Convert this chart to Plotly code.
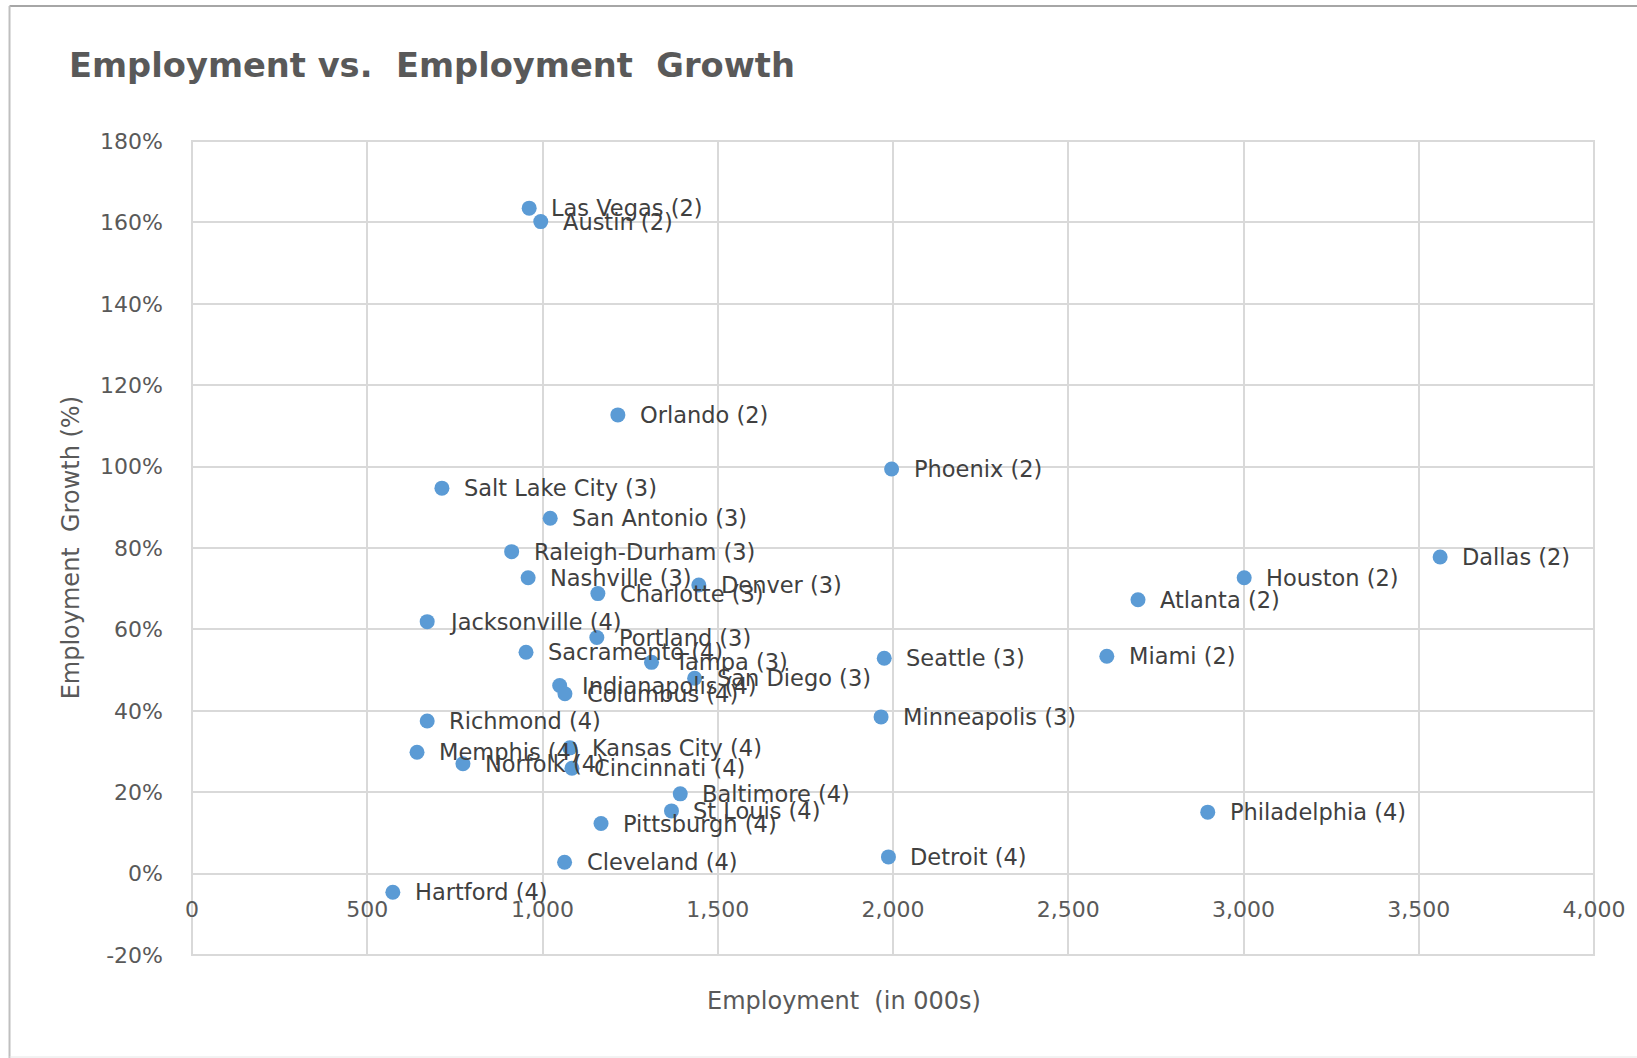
import plotly.graph_objects as go

# ---------------- data ----------------
cities = ["Las Vegas", "Austin", "Orlando", "Phoenix", "Salt Lake City", "San Antonio",
          "Raleigh-Durham", "Nashville", "Denver", "Charlotte", "Jacksonville", "Portland",
          "Sacramento", "Tampa", "San Diego", "Indianapolis", "Columbus", "Seattle",
          "Minneapolis", "Richmond", "Memphis", "Norfolk", "Kansas City", "Cincinnati",
          "Baltimore", "St Louis", "Pittsburgh", "Cleveland", "Hartford", "Detroit",
          "Philadelphia", "Miami", "Atlanta", "Houston", "Dallas"]
tiers = [2, 2, 2, 2, 3, 3,
         3, 3, 3, 3, 4, 3,
         4, 3, 3, 4, 4, 3,
         3, 4, 4, 4, 4, 4,
         4, 4, 4, 4, 4, 4,
         4, 2, 2, 2, 2]
employment = [962, 995, 1215, 1996, 713, 1022,
              912, 959, 1446, 1158, 671, 1155,
              953, 1311, 1434, 1049, 1064, 1975,
              1966, 671, 642, 773, 1078, 1084,
              1393, 1368, 1167, 1063, 573, 1987,
              2898, 2610, 2699, 3002, 3561]
growth_pct = [163.5, 160.2, 112.7, 99.4, 94.7, 87.3,
              79.1, 72.7, 70.9, 68.8, 61.9, 58.0,
              54.4, 51.9, 48.0, 46.2, 44.2, 52.9,
              38.5, 37.5, 29.8, 27.0, 30.9, 25.9,
              19.6, 15.4, 12.3, 2.8, -4.6, 4.1,
              15.1, 53.4, 67.3, 72.7, 77.8]

x_tick_vals = [0, 500, 1000, 1500, 2000, 2500, 3000, 3500, 4000]
x_tick_text = ["0", "500", "1,000", "1,500", "2,000", "2,500", "3,000", "3,500", "4,000"]
y_tick_vals = [-20, 0, 20, 40, 60, 80, 100, 120, 140, 160, 180]
y_tick_text = ["-20%", "0%", "20%", "40%", "60%", "80%", "100%", "120%", "140%", "160%", "180%"]

title_text = "Employment vs.\u00a0 Employment\u00a0 Growth"
x_title = "Employment\u00a0 (in 000s)"
y_title = "Employment\u00a0 Growth (%)"

labels = [f"{c} ({t})" for c, t in zip(cities, tiers)]

# ---------------- layout geometry ----------------
W, H = 1637, 1058
ML, MR, MT, MB = 192, 39, 141, 103
PW, PH = W - ML - MR, H - MT - MB


def px_x(px):
    return (px - ML) / PW


def px_y(py):
    return (H - MB - py) / PH


FONT = "DejaVu Sans"
GRID = "#d9d9d9"

fig = go.Figure()
fig.add_trace(go.Scatter(
    x=employment, y=growth_pct, mode="markers",
    marker=dict(color="#5b9bd5", size=15),
    hoverinfo="skip", showlegend=False,
))

annotations = []
for xv, yv, lab in zip(employment, growth_pct, labels):
    annotations.append(dict(
        x=xv, y=yv, xref="x", yref="y", text=lab, showarrow=False,
        xanchor="left", yanchor="middle", xshift=20,
        font=dict(family=FONT, size=22.5, color="#404040"),
    ))

# axis titles
annotations.append(dict(
    x=px_x(846), y=px_y(1001), xref="paper", yref="paper", text=x_title,
    showarrow=False, xanchor="center", yanchor="middle",
    font=dict(family=FONT, size=24, color="#595959"),
))
annotations.append(dict(
    x=px_x(71), y=px_y(548), xref="paper", yref="paper", text=y_title,
    showarrow=False, xanchor="center", yanchor="middle", textangle=-90,
    font=dict(family=FONT, size=24, color="#595959"),
))

shapes = [
    # plot area border
    dict(type="rect", xref="paper", yref="paper", x0=0, x1=1, y0=0, y1=1,
         line=dict(color=GRID, width=2), layer="below"),
    # chart outer frame
    dict(type="line", xref="paper", yref="paper", x0=px_x(9), x1=px_x(W + 5),
         y0=px_y(6), y1=px_y(6), line=dict(color="#a6a6a6", width=2)),
    dict(type="line", xref="paper", yref="paper", x0=px_x(9), x1=px_x(9),
         y0=px_y(6), y1=px_y(H + 5), line=dict(color="#bfbfbf", width=2)),
    dict(type="line", xref="paper", yref="paper", x0=px_x(9), x1=px_x(W + 5),
         y0=px_y(1057), y1=px_y(1057), line=dict(color="#e6e6e6", width=1)),
]

fig.update_layout(
    width=W, height=H,
    margin=dict(l=ML, r=MR, t=MT, b=MB, pad=0),
    paper_bgcolor="white", plot_bgcolor="white",
    title=dict(text=title_text, x=69 / W, xref="container", xanchor="left",
               y=1 - 65 / H, yref="container", yanchor="middle",
               font=dict(family=FONT, size=33.7, color="#595959", weight="bold")),
    annotations=annotations,
    shapes=shapes,
    xaxis=dict(range=[0, 4000], tickvals=x_tick_vals, ticktext=x_tick_text,
               showgrid=True, gridcolor=GRID, gridwidth=2, zeroline=False,
               showline=False, ticks="", anchor="free", position=0.1,
               ticklabelstandoff=20,
               tickfont=dict(family=FONT, size=22, color="#595959")),
    yaxis=dict(range=[-20, 180], tickvals=y_tick_vals, ticktext=y_tick_text,
               showgrid=True, gridcolor=GRID, gridwidth=2, zeroline=False,
               showline=False, ticks="", ticklabelstandoff=28,
               tickfont=dict(family=FONT, size=22, color="#595959")),
)

fig.write_html("out.html")
